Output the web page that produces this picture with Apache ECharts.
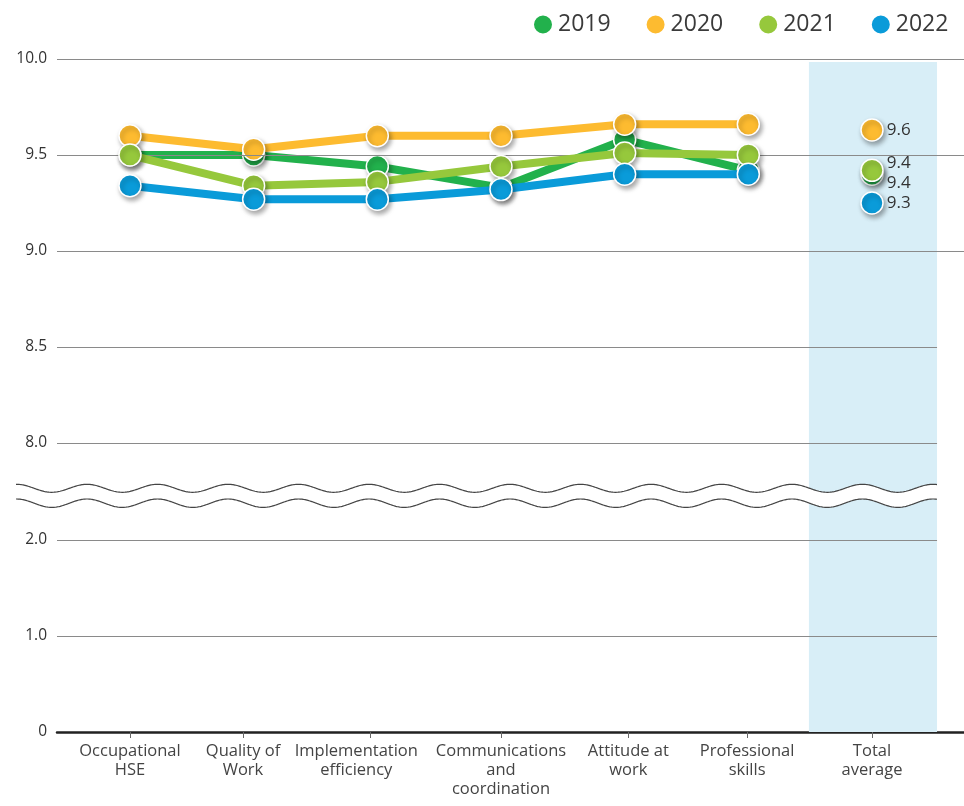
<!DOCTYPE html>
<html>
<head>
<meta charset="utf-8">
<script src="https://cdn.jsdelivr.net/npm/echarts@6/dist/echarts.min.js"></script>
<style>html,body{margin:0;padding:0;background:#fff}#c{width:964px;height:806px}</style>
</head>
<body>
<div id="c"></div>
<script>
const categories = ['Occupational\nHSE', 'Quality of\nWork', 'Implementation\nefficiency', 'Communications\nand\ncoordination', 'Attitude at\nwork', 'Professional\nskills', 'Total\naverage'];
const years = ['2019', '2020', '2021', '2022'];
const v2019 = [9.50, 9.50, 9.44, 9.33, 9.58, 9.42, 9.40];
const v2020 = [9.60, 9.53, 9.60, 9.60, 9.66, 9.66, 9.63];
const v2021 = [9.50, 9.34, 9.36, 9.44, 9.51, 9.50, 9.42];
const v2022 = [9.34, 9.27, 9.27, 9.32, 9.40, 9.40, 9.25];
const topTicks = [8.0, 8.5, 9.0, 9.5, 10.0];
const bottomTicks = [0, 1.0, 2.0];

const FONT = '"Open Sans", sans-serif';
const colors = ['#22b14c', '#fdbb30', '#96c83c', '#0a9bd9'];
const values = [v2019, v2020, v2021, v2022];
const labelOffsets = [[0, 9], [0, 0], [0, -7], [0, 0]];
const XMIN = -0.59, XMAX = 6.744, XBOX0 = 5.49, XBOX1 = 6.526;
const TOPMIN = 7.745, BOTMAX = 2.5;
const idx = categories.map((c, i) => i);
// slight shifts of the printed tick / label positions, as in the original layout
const tickShift = [0, -0.086, -0.06, 0, 0.03, -0.01, 0];
const labelShift = [0, -0.086, -0.17, 0, 0.03, -0.01, 0];

const chart = echarts.init(document.getElementById('c'));

function wave(c, A) {
  const pts = [];
  for (let x = 16; x <= 937; x += 1) {
    pts.push([x, c - A * Math.cos(2 * Math.PI * (x - 16.5) / 70.5)]);
  }
  return pts;
}
const w1 = wave(488.3, 4.0);
const w2 = wave(503.2, 4.2);

const series = [];
series.push({
  type: 'line', xAxisIndex: 0, yAxisIndex: 0, data: [], silent: true, z: 1,
  markArea: { silent: true, itemStyle: { color: '#d8eef7' },
    data: [[{ coord: [XBOX0, 9.984] }, { coord: [XBOX1, TOPMIN] }]] }
});
series.push({
  type: 'line', xAxisIndex: 1, yAxisIndex: 1, data: [], silent: true, z: 1,
  markArea: { silent: true, itemStyle: { color: '#d8eef7' },
    data: [[{ coord: [XBOX0, BOTMAX] }, { coord: [XBOX1, 0] }]] }
});
const gl = { color: '#8a8a8a', width: 1.2, type: 'solid' };
series.push({
  type: 'line', xAxisIndex: 0, yAxisIndex: 0, data: [], silent: true, z: 2,
  markLine: { silent: true, symbol: ['none', 'none'], label: { show: false }, lineStyle: gl, animation: false,
    data: topTicks.map(t => [{ coord: [XMIN, t] }, { coord: [t >= 9 ? XMAX : XBOX1, t] }]) }
});
series.push({
  type: 'line', xAxisIndex: 1, yAxisIndex: 1, data: [], silent: true, z: 2,
  markLine: { silent: true, symbol: ['none', 'none'], label: { show: false }, lineStyle: gl, animation: false,
    data: bottomTicks.filter(t => t > 0).map(t => [{ coord: [XMIN, t] }, { coord: [XBOX1, t] }]) }
});

years.forEach((y, i) => {
  const itemStyle = { color: colors[i], opacity: 1, borderColor: '#fff', borderWidth: 1.5,
    shadowColor: 'rgba(0,0,0,0.35)', shadowBlur: 5, shadowOffsetX: 2, shadowOffsetY: 3 };
  series.push({
    name: y, type: 'line', xAxisIndex: 0, yAxisIndex: 0, z: 3 + i,
    data: values[i].slice(0, 6).map((v, j) => [idx[j], v]),
    symbol: 'circle', symbolSize: 22,
    lineStyle: { width: 8, color: colors[i] },
    itemStyle: itemStyle,
    emphasis: { disabled: true }
  });
  series.push({
    name: y, type: 'scatter', xAxisIndex: 0, yAxisIndex: 0, z: 3 + i,
    data: [[idx[6], values[i][6]]],
    symbol: 'circle', symbolSize: 22,
    itemStyle: itemStyle,
    emphasis: { disabled: true },
    label: { show: true, position: 'right', distance: 3, offset: labelOffsets[i],
      formatter: p => p.value[1].toFixed(1), fontSize: 17, color: '#333', fontFamily: FONT }
  });
});

chart.setOption({
  animation: false,
  textStyle: { fontFamily: FONT },
  legend: {
    data: years, left: 527, top: 8, itemWidth: 20, itemHeight: 20, itemGap: 34, icon: 'circle',
    textStyle: { fontSize: 23, color: '#3a3a3a', fontFamily: FONT }
  },
  grid: [
    { left: 57, right: 0, top: 59, height: 433 },
    { left: 57, right: 0, top: 492, height: 240 }
  ],
  xAxis: [
    { type: 'value', gridIndex: 0, min: XMIN, max: XMAX, show: false, splitLine: { show: false } },
    { type: 'value', gridIndex: 1, min: XMIN, max: XMAX, splitLine: { show: false },
      axisLine: { show: true, onZero: false, lineStyle: { color: '#222', width: 2.5 } },
      axisTick: { show: true, customValues: idx.map(i => i + tickShift[i]), length: 6, lineStyle: { color: '#666', width: 1 } },
      axisLabel: { customValues: idx.map(i => i + labelShift[i]), formatter: v => categories[Math.round(v)], fontSize: 16.5, lineHeight: 19,
        color: '#444', margin: 10, fontFamily: FONT } }
  ],
  yAxis: [
    { type: 'value', gridIndex: 0, min: TOPMIN, max: 10, splitLine: { show: false },
      axisLine: { show: false }, axisTick: { show: false },
      axisLabel: { customValues: topTicks, formatter: v => v.toFixed(1), fontSize: 15.5, color: '#333', margin: 10, fontFamily: FONT } },
    { type: 'value', gridIndex: 1, min: 0, max: BOTMAX, splitLine: { show: false },
      axisLine: { show: false }, axisTick: { show: false },
      axisLabel: { customValues: bottomTicks, formatter: v => v === 0 ? '0' : v.toFixed(1), fontSize: 15.5, color: '#333', margin: 10, fontFamily: FONT } }
  ],
  graphic: [
    { type: 'polygon', z: 100, silent: true, shape: { points: w1.concat(w2.slice().reverse()) }, style: { fill: '#fff' } },
    { type: 'polyline', z: 101, silent: true, shape: { points: w1 }, style: { stroke: '#444', lineWidth: 1.2, fill: null } },
    { type: 'polyline', z: 101, silent: true, shape: { points: w2 }, style: { stroke: '#444', lineWidth: 1.2, fill: null } }
  ],
  series: series
});
</script>
</body>
</html>
